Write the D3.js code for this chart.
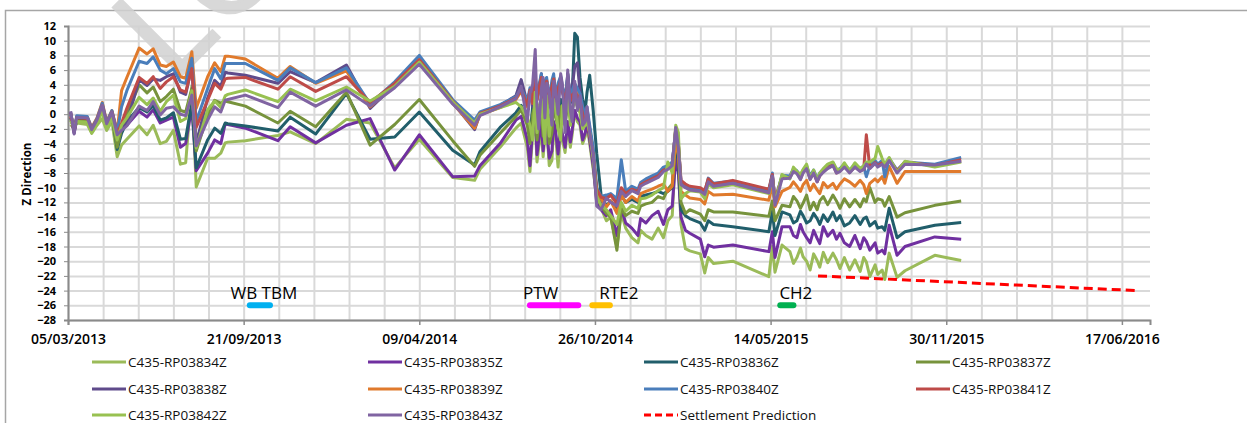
<!DOCTYPE html>
<html>
<head>
<meta charset="utf-8">
<script src="https://cdn.jsdelivr.net/npm/d3@7"></script>
<style>
  body { margin: 0; background: #fff; }
  text { font-family: "Open Sans", "DejaVu Sans", sans-serif; }
</style>
</head>
<body>
<div id="chart"></div>
<script>
// survey dates, shared by all prisms
const dates = [
  "08/03/2013","12/03/2013","15/03/2013","27/03/2013","01/04/2013","07/04/2013","13/04/2013","18/04/2013","24/04/2013","30/04/2013",
  "05/05/2013","11/05/2013","25/05/2013","03/06/2013","10/06/2013","18/06/2013","25/06/2013","03/07/2013","11/07/2013","17/07/2013",
  "24/07/2013","29/07/2013","11/08/2013","19/08/2013","26/08/2013","31/08/2013","03/09/2013","23/09/2013","30/10/2013","13/11/2013",
  "12/12/2013","16/01/2014","12/02/2014","12/03/2014","09/04/2014","17/05/2014","11/06/2014","17/06/2014","10/07/2014","28/07/2014",
  "03/08/2014",
  // PTW works
  "10/08/2014","13/08/2014","16/08/2014","19/08/2014","21/08/2014","23/08/2014","26/08/2014","28/08/2014","30/08/2014","01/09/2014",
  "04/09/2014","07/09/2014","09/09/2014","11/09/2014","14/09/2014","17/09/2014","19/09/2014","22/09/2014","25/09/2014","28/09/2014",
  "30/09/2014","03/10/2014","06/10/2014","09/10/2014","12/10/2014","15/10/2014","17/10/2014","20/10/2014","24/10/2014",
  // after the drop
  "28/10/2014","02/11/2014","08/11/2014","13/11/2014","20/11/2014","25/11/2014","30/11/2014","07/12/2014","14/12/2014","17/12/2014",
  "23/12/2014","30/12/2014","06/01/2015","12/01/2015","17/01/2015","22/01/2015","26/01/2015","29/01/2015","01/02/2015","06/02/2015",
  "11/02/2015","23/02/2015","28/02/2015","04/03/2015","10/03/2015","01/04/2015","12/05/2015","16/05/2015","19/05/2015","27/05/2015",
  // summer 2015
  "05/06/2015","09/06/2015","13/06/2015","17/06/2015","20/06/2015","24/06/2015","28/06/2015","02/07/2015","06/07/2015","09/07/2015",
  "13/07/2015","18/07/2015","24/07/2015","28/07/2015","01/08/2015","06/08/2015","12/08/2015","18/08/2015","24/08/2015","28/08/2015",
  "31/08/2015",
  "04/09/2015","10/09/2015","13/09/2015","18/09/2015","21/09/2015","26/09/2015","05/10/2015","14/10/2015","17/11/2015","17/12/2015"
];

const rp03834 = [
  -1.4, -2.0, -1.2, -1.4, -2.6, -1.5, -0.6, -2.2, -1.0, -5.8,
  -4.2, -3.4, -1.6, -2.8, -1.5, -4.0, -3.7, -2.2, -6.8, -6.6,
  3.8, -9.9, -6.0, -6.0, -5.3, -3.9, -3.8, -3.6, -2.9, -2.4,
  -4.0, -0.7, -1.2, -7.3, -3.4, -8.6, -9.0, -7.5, -4.5, -1.9,
  -1.2,
  -4.5, -7.8, -3.0, -1.0, -6.5, -4.5, -2.0, -5.8, -3.0, -1.8, -7.0, -6.3, -1.5, -2.5, -7.2,
  -2.0, -3.5, -5.2, -1.5, -4.5, -2.8, 0.5, -1.0, -1.5, -4.0, -3.0, -1.5, -4.0, -7.5,
  -11.5, -12.8, -14.5, -14.0, -18.0, -13.5, -15.5, -16.8, -17.5, -15.8,
  -16.5, -17.0, -15.5, -16.8, -14.5, -13.8, -4.5, -7.0, -15.0, -18.3,
  -18.6, -19.0, -21.6, -19.5, -20.3, -20.0, -22.1, -18.0, -21.5, -17.8,
  -18.7, -20.3, -19.5, -18.2, -19.4, -20.0, -21.2, -19.0, -19.9, -20.8,
  -18.8, -20.2, -18.9, -19.8, -21.0, -19.5, -21.2, -19.8, -21.4, -19.5, -20.1,
  -22.1, -20.5, -21.8, -21.2, -22.5, -18.9, -22.2, -21.3, -19.2, -19.9
];
const rp03835 = [
  0.2, -2.5, -0.5, -0.6, -2.1, -0.9, 1.0, -1.4, 0.2, -2.8,
  -2.0, -1.5, 0.4, -0.4, 0.6, -1.2, -0.8, -0.4, -4.5, -4.0,
  1.0, -7.7, -5.3, -3.5, -4.0, -1.3, -1.4, -1.9, -3.6, -1.7,
  -3.9, -1.5, -0.6, -7.6, -2.8, -8.5, -8.4, -7.0, -4.0, -0.8,
  -0.3,
  -3.5, -7.0, -2.0, -0.4, -5.5, -3.5, -1.0, -5.0, -2.5, -2.0, -6.0, -5.0, -1.0, -2.0, -5.4,
  -1.5, -2.7, -4.5, -1.0, -3.8, -2.2, 0.5, -0.5, -1.0, -3.5, -2.5, -1.0, -3.5, -7.0,
  -12.0, -13.0, -13.8, -13.0, -16.5, -12.8, -14.8, -15.5, -16.5, -14.2,
  -14.8, -13.8, -13.2, -15.0, -13.0, -12.5, -6.0, -8.0, -14.0, -15.8,
  -16.2, -17.0, -19.4, -17.8, -18.1, -17.8, -18.7, -16.0, -19.5, -15.3,
  -15.3, -16.5, -16.8, -15.0, -16.0, -16.8, -17.5, -15.8, -16.9, -17.6,
  -15.3, -16.6, -15.8, -17.0, -16.2, -17.5, -18.0, -16.5, -18.3, -16.8, -17.3,
  -18.5, -17.5, -18.9, -18.5, -19.0, -15.1, -19.2, -18.0, -16.7, -17.0
];
const rp03836 = [
  -0.5, -2.2, -0.8, -0.9, -2.2, -1.0, 0.8, -1.5, 0.0, -4.8,
  -2.6, -1.0, 0.9, 0.3, 1.2, -0.8, -0.5, 0.2, -3.4, -3.3,
  1.6, -7.3, -3.5, -1.9, -2.6, -1.2, -1.3, -1.6, -2.3, -0.4,
  -2.7, 2.8, -3.4, -3.1, 0.3, -4.9, -6.9, -5.1, -1.8, 0.2,
  1.2,
  -1.0, -3.0, 1.0, 2.5, -1.0, 0.0, 2.0, -1.0, 1.0, 2.0, -2.0, -1.5, 2.5, 1.0, -0.5,
  2.0, 1.0, -0.5, 5.5, 1.5, 2.5, 11.0, 10.5, 5.0, 2.0, 0.6, 3.0, 5.3, 0.5,
  -5.3, -11.0, -12.5, -11.8, -13.0, -11.0, -12.0, -11.6, -12.0, -11.2,
  -11.0, -10.8, -10.5, -10.8, -10.5, -10.0, -4.0, -6.5, -13.0, -13.8,
  -14.2, -14.8, -15.8, -14.5, -15.0, -15.3, -16.0, -13.2, -16.5, -13.3,
  -13.7, -14.8, -14.5, -13.2, -13.8, -14.8, -14.5, -13.5, -14.2, -15.0,
  -13.7, -14.6, -13.3, -14.5, -13.8, -15.2, -14.8, -13.8, -15.0, -14.2, -14.0,
  -15.2, -14.6, -15.5, -15.3, -15.8, -12.8, -16.8, -16.0, -15.1, -14.75
];
const rp03837 = [
  -0.8, -1.8, -0.9, -1.0, -2.2, -1.2, 0.6, -1.6, -0.2, -4.5,
  -2.0, 0.0, 4.0, 2.9, 3.7, 1.7, 2.4, 3.4, 0.5, 0.3,
  3.5, -5.0, -0.1, 1.9, 1.5, 1.8, 1.7, 1.1, -1.2, 0.4,
  -1.7, 3.0, -4.2, -1.4, 2.0, -3.6, -7.1, -5.6, -2.6, -0.3,
  0.6,
  -1.5, -4.0, 0.0, 1.5, -3.5, -1.5, 0.5, -3.0, -0.5, 1.0, -4.0, -2.5, 1.0, 0.0, -2.0,
  1.0, 0.2, -1.5, 1.5, -0.5, 0.5, 2.0, 1.2, 0.5, -1.5, -1.0, 0.0, -2.0, -5.5,
  -11.0, -12.5, -13.5, -14.0, -18.5, -12.8, -13.8, -13.2, -13.5, -12.5,
  -12.2, -12.0, -11.2, -11.5, -10.2, -9.5, -3.5, -5.0, -12.0, -13.5,
  -13.0, -13.6, -14.5, -13.0, -13.3, -13.3, -13.9, -11.8, -14.5, -12.4,
  -12.6, -11.2, -11.8, -12.8, -12.1, -11.0, -13.0, -12.0, -13.0, -11.8,
  -11.2, -12.3, -11.0, -11.8, -12.8, -11.5, -12.6, -11.6, -12.6, -11.5, -11.9,
  -10.0, -12.0, -11.5, -11.7, -12.5, -11.2, -14.0, -13.4, -12.4, -11.8
];
const rp03838 = [
  0.3, -2.6, -0.3, -0.5, -2.0, -0.7, 1.3, -1.2, 0.4, -2.6,
  -1.8, -1.2, 4.7, 3.9, 4.8, 4.6, 5.1, 5.5, 3.0, 2.7,
  6.5, -4.0, 2.2, 4.6, 3.8, 5.7, 5.6, 5.3, 4.2, 5.8,
  4.3, 6.7, 0.8, 4.0, 7.0, 1.6, -2.1, 0.0, 1.2, 2.5,
  4.7,
  1.5, 3.2, 1.0, 5.0, 2.0, 3.0, 5.5, 2.0, 4.0, 4.5, 1.5, 3.5, 5.0, 1.8, 3.3,
  5.0, 3.0, 1.5, 5.5, 2.0, 3.5, 6.5, 7.0, 3.0, 1.0, -0.5, 0.5, -2.0, -5.0,
  -11.0, -12.0, -11.2, -11.0, -12.0, -10.2, -10.8, -10.0, -10.4, -9.5,
  -9.0, -8.6, -8.2, -7.4, -7.2, -6.8, -2.0, -4.0, -9.4, -9.9,
  -10.2, -10.4, -10.8, -9.0, -9.6, -9.3, -10.6, -8.3, -12.0, -8.5,
  -8.5, -7.6, -7.9, -8.6, -7.8, -7.2, -8.6, -7.8, -9.0, -8.2,
  -7.7, -7.2, -6.8, -7.8, -7.6, -7.0, -7.8, -7.0, -7.6, -7.3, -6.6,
  -7.2, -6.5, -7.0, -6.5, -7.0, -6.2, -7.8, -6.7, -6.9, -6.4
];
const rp03839 = [
  0.1, -2.0, -0.4, -0.4, -1.8, -0.5, 1.6, -1.0, 0.5, -2.4,
  3.2, 5.0, 9.0, 8.2, 8.9, 6.7, 6.5, 7.1, 5.1, 4.9,
  8.5, 0.8, 5.1, 7.0, 5.8, 7.9, 7.9, 7.5, 4.9, 6.5,
  4.2, 5.9, 1.0, 4.0, 7.6, 1.5, -1.9, -0.1, 0.9, 2.0,
  3.1,
  1.0, 3.0, 1.5, 4.6, 2.0, 3.5, 5.0, 2.3, 4.0, 4.7, 1.5, 4.0, 5.0, 2.0, 3.8,
  4.5, 3.3, 1.8, 4.5, 2.0, 2.8, 3.5, 2.8, 2.0, 0.5, -0.8, 0.0, -2.5, -5.5,
  -10.5, -11.5, -12.6, -11.8, -13.5, -11.0, -12.0, -11.2, -11.8, -10.8,
  -10.5, -10.2, -9.8, -9.5, -10.5, -9.8, -3.5, -5.5, -10.5, -11.0,
  -11.4, -11.6, -12.2, -10.5, -11.0, -10.9, -11.7, -9.6, -12.6, -10.5,
  -9.95, -9.2, -9.8, -10.5, -9.6, -9.0, -10.4, -9.5, -10.3, -10.8,
  -9.3, -10.0, -9.4, -10.2, -9.5, -8.8, -9.2, -9.8, -9.0, -9.6, -10.8,
  -9.4, -8.8, -9.2, -8.5, -9.4, -7.1, -9.4, -7.8, -7.8, -7.8
];
const rp03840 = [
  0.0, -2.1, -0.2, -0.3, -1.9, -0.6, 1.5, -1.1, 0.5, -2.5,
  1.0, 3.2, 7.2, 6.9, 7.8, 6.0, 5.5, 6.2, 4.4, 4.2,
  7.6, -1.0, 3.5, 6.2, 4.8, 6.9, 6.9, 6.9, 4.6, 6.3,
  4.3, 6.3, 1.4, 4.4, 8.0, 2.0, -0.8, 0.3, 1.3, 2.4,
  3.5,
  1.8, 3.6, 2.0, 5.2, 2.5, 3.8, 5.5, 2.6, 4.5, 5.0, 2.0, 4.6, 5.5, 2.5, 4.2,
  5.2, 3.8, 2.2, 5.0, 2.5, 3.2, 4.2, 3.5, 2.8, 1.0, 0.0, 1.0, -1.5, -4.5,
  -10.0, -11.2, -11.0, -10.8, -11.5, -6.2, -10.5, -9.8, -10.2, -9.3,
  -8.8, -8.4, -8.0, -7.2, -7.0, -6.5, -2.2, -4.2, -9.2, -9.7,
  -10.0, -10.2, -10.6, -8.7, -9.4, -9.1, -10.4, -8.0, -11.8, -8.3,
  -8.4, -7.4, -7.7, -8.4, -7.6, -7.0, -8.4, -7.6, -8.8, -8.0,
  -7.5, -7.0, -6.6, -7.6, -7.4, -6.8, -7.6, -6.8, -7.4, -7.1, -8.5,
  -7.0, -6.3, -6.8, -6.3, -8.5, -6.0, -7.6, -6.5, -6.8, -5.9
];
const rp03841 = [
  -0.3, -2.3, -0.5, -0.6, -2.0, -0.8, 1.2, -1.3, 0.3, -2.7,
  -1.2, 0.8, 5.0, 4.2, 5.1, 3.5, 4.4, 5.1, 3.3, 3.0,
  6.2, -1.8, 1.9, 4.2, 3.4, 4.8, 4.9, 5.0, 3.4, 5.1,
  3.1, 5.1, 1.6, 4.2, 7.4, 1.8, -1.4, 0.1, 1.1, 2.2,
  3.3,
  1.2, 3.3, 1.5, 4.8, 2.0, 3.4, 5.0, 2.1, 4.0, 4.5, 1.5, 3.8, 4.8, 1.9, 3.5,
  4.5, 3.2, 1.6, 4.2, 1.8, 2.6, 3.0, 2.5, 1.8, 0.0, -1.5, -0.5, -2.8, -5.5,
  -10.2, -11.3, -11.5, -11.0, -12.2, -10.0, -10.8, -10.2, -10.5, -9.6,
  -9.2, -8.8, -8.4, -7.6, -7.4, -6.9, -2.0, -4.0, -9.0, -9.5,
  -9.8, -10.0, -10.4, -8.8, -9.5, -9.0, -10.2, -8.2, -11.6, -8.6,
  -8.6, -7.7, -8.0, -8.8, -7.9, -7.3, -8.8, -8.0, -9.2, -8.4,
  -7.8, -7.3, -6.9, -8.0, -7.7, -7.1, -7.9, -7.2, -7.7, -7.5, -2.8,
  -7.3, -6.6, -7.0, -6.6, -7.0, -6.1, -7.7, -6.5, -7.0, -6.2
];
const rp03842 = [
  -0.9, -1.7, -1.0, -1.1, -2.5, -1.3, 0.4, -1.9, -0.6, -3.5,
  -1.5, -0.5, 2.3, 1.3, 2.2, 0.4, 1.7, 2.6, -1.0, -0.6,
  3.2, -4.6, 0.6, 1.8, 0.9, 2.5, 2.7, 3.3, 1.7, 3.4,
  1.8, 3.7, 1.8, 3.8, 7.1, 1.7, -1.2, 0.0, 0.9, 1.6,
  1.0,
  -0.5, -1.5, -3.5, 3.0, -2.5, 1.0, 2.0, -1.5, -4.0, 2.5, -3.0, 0.5, 2.0, 1.0, -2.0,
  -3.5, 1.2, -0.5, 2.5, -1.5, 0.8, 2.0, 1.0, 0.2, -2.0, -1.5, -1.0, -2.5, -6.0,
  -11.2, -12.4, -13.0, -13.8, -15.0, -12.0, -13.2, -12.4, -12.8, -11.5,
  -11.4, -11.0, -10.4, -10.0, -6.5, -8.0, -1.5, -2.5, -11.5, -10.8,
  -10.4, -10.6, -11.5, -9.5, -10.0, -9.6, -10.8, -8.6, -12.2, -8.2,
  -8.8, -7.2, -7.8, -8.2, -7.5, -6.8, -8.8, -7.6, -9.0, -8.0,
  -7.4, -6.8, -6.5, -7.4, -7.6, -6.6, -7.7, -6.6, -7.4, -7.0, -6.5,
  -6.5, -6.0, -4.4, -6.0, -6.8, -5.9, -7.9, -6.4, -7.2, -6.5
];
const rp03843 = [
  0.4, -2.7, -0.4, -0.5, -2.1, -0.8, 1.2, -1.3, 0.3, -2.8,
  -2.2, -1.6, 1.1, 0.5, 1.7, -0.1, 0.8, 1.0, 0.0, -0.2,
  2.6, -4.3, -0.8, 1.0, 0.3, 1.9, 2.0, 2.6, 0.9, 3.0,
  1.1, 3.3, 1.1, 3.6, 6.8, 1.4, -1.5, -0.2, 1.0, 2.1,
  3.8,
  -1.0, 2.8, 4.0, 8.8, 1.0, -2.0, 3.5, 5.0, -0.5, 4.2, 3.0, -1.5, 4.5, 3.5, 0.0,
  5.5, 4.0, -2.5, 6.0, 0.5, -1.0, 4.5, 0.5, 2.5, -1.5, -1.0, 1.0, -2.5, -5.5,
  -12.5, -13.0, -11.4, -12.0, -12.5, -10.5, -11.2, -10.4, -10.8, -9.8,
  -9.4, -9.0, -8.6, -7.8, -7.5, -7.0, -1.8, -4.5, -9.6, -10.0,
  -10.3, -10.5, -10.9, -9.2, -9.8, -9.4, -10.7, -8.4, -12.4, -8.8,
  -8.7, -7.8, -8.1, -8.9, -8.0, -7.4, -8.9, -8.0, -9.2, -8.4,
  -7.9, -7.4, -7.0, -8.0, -7.8, -7.2, -8.0, -7.2, -7.8, -7.5, -6.8,
  -7.4, -6.7, -7.2, -6.8, -7.2, -6.3, -8.0, -6.8, -6.9, -6.4
];

const series_names = [
  "C435-RP03834Z","C435-RP03835Z","C435-RP03836Z","C435-RP03837Z","C435-RP03838Z",
  "C435-RP03839Z","C435-RP03840Z","C435-RP03841Z","C435-RP03842Z","C435-RP03843Z"
];
const series_values = [rp03834, rp03835, rp03836, rp03837, rp03838, rp03839, rp03840, rp03841, rp03842, rp03843];
const series_colors = ["#9bbb59","#7030a0","#215e6b","#77933c","#5f4b8b","#e07a2c","#4a7ebb","#be4b48","#98c151","#8064a2"];

const prediction_name = "Settlement Prediction";
const prediction_dates = ["07/07/2015", "04/07/2016"];
const prediction_values = [-22, -24];

// construction events marked along the bottom of the chart
const event_labels = ["WB TBM", "PTW", "RTE2", "CH2"];
const event_label_dates = ["06/09/2013", "05/08/2014", "31/10/2014", "24/05/2015"];
const event_start = ["28/09/2013", "13/08/2014", "23/10/2014", "25/05/2015"];
const event_end = ["21/10/2013", "07/10/2014", "12/11/2014", "09/06/2015"];
const event_colors = ["#00b0f0", "#ff00ff", "#ffc000", "#00b050"];
const event_level = -26;

const x_ticks = ["05/03/2013","21/09/2013","09/04/2014","26/10/2014","14/05/2015","30/11/2015","17/06/2016"];
const x_min = "05/03/2013", x_max = "19/07/2016";
const y_ticks = d3.range(-28, 13, 2);

series_values.forEach((v, i) => {
  if (v.length !== dates.length) throw new Error(series_names[i] + " has " + v.length + " values, dates " + dates.length);
});

const parse = d3.utcParse("%d/%m/%Y");
const fmt = d3.utcFormat("%d/%m/%Y");

const W = 1247, H = 423;
const plot = {left: 68, right: 1150, top: 26, bottom: 320};

const svg = d3.select("#chart").append("svg")
  .attr("width", W).attr("height", H);

// chart frame
svg.append("path")
  .attr("d", "M5.5," + H + " V10.5 H" + W)
  .attr("fill", "none").attr("stroke", "#a6a6a6").attr("stroke-width", 1.5);

const x = d3.scaleUtc()
  .domain([parse(x_min), parse(x_max)])
  .range([plot.left, plot.right]);
const y = d3.scaleLinear()
  .domain([-28, 12])
  .range([plot.bottom, plot.top]);

// minor date gridlines every 40 days
const grid_dates = d3.range(0, 1233, 40).map(k => d3.utcDay.offset(parse(x_min), k));
svg.append("g")
  .attr("transform", "translate(0," + plot.bottom + ")")
  .call(d3.axisBottom(x).tickValues(grid_dates).tickSize(-(plot.bottom - plot.top)).tickFormat(""))
  .call(g => g.select(".domain").remove())
  .selectAll("line").attr("stroke", "#d9d9d9").attr("stroke-width", 2);

svg.append("g")
  .attr("transform", "translate(" + plot.left + ",0)")
  .call(d3.axisLeft(y).tickValues(y_ticks).tickSize(-(plot.right - plot.left)).tickFormat(""))
  .call(g => g.select(".domain").remove())
  .selectAll("line").attr("stroke", "#d9d9d9").attr("stroke-width", 2);

// faint watermark lettering (mostly above the page edge)
svg.append("text")
  .attr("transform", "translate(172,85) rotate(-45)")
  .attr("font-size", 135).attr("fill", "#d2d2d2").attr("opacity", 0.85)
  .attr("stroke", "#d2d2d2").attr("stroke-width", 2.5)
  .attr("font-family", "'Liberation Sans', sans-serif")
  .text("LO");

// axes
const yAxis = svg.append("g")
  .attr("transform", "translate(" + plot.left + ",0)")
  .call(d3.axisLeft(y).tickValues(y_ticks).tickSize(4).tickPadding(8));
yAxis.select(".domain").attr("stroke", "#8a8a8a").attr("stroke-width", 2);
yAxis.selectAll("line").attr("stroke", "#8a8a8a");
yAxis.selectAll("text")
  .attr("font-family", "'Open Sans', sans-serif")
  .attr("font-size", 11).attr("font-weight", 700).attr("fill", "#000");

const xAxis = svg.append("g")
  .attr("transform", "translate(0," + plot.bottom + ")")
  .call(d3.axisBottom(x).tickValues(x_ticks.map(parse)).tickFormat(fmt).tickSize(5).tickPadding(9));
xAxis.select(".domain").attr("stroke", "#8a8a8a").attr("stroke-width", 2);
xAxis.selectAll("line").attr("stroke", "#8a8a8a").attr("stroke-width", 1.5);
xAxis.selectAll("text")
  .attr("font-family", "'Open Sans', sans-serif")
  .attr("font-size", 14).attr("font-weight", 600).attr("fill", "#000");

svg.append("text")
  .attr("transform", "translate(31,174) rotate(-90)")
  .attr("text-anchor", "middle")
  .attr("font-size", 11.5).attr("font-weight", 700)
  .text("Z Direction");

// series
const line = d3.line()
  .x(d => x(d.date))
  .y(d => y(d.value));

series_values.forEach((vals, i) => {
  const pts = vals.map((v, k) => ({date: parse(dates[k]), value: v}));
  svg.append("path")
    .datum(pts)
    .attr("fill", "none")
    .attr("stroke", series_colors[i])
    .attr("stroke-width", 3)
    .attr("stroke-linejoin", "round")
    .attr("d", line);
});

svg.append("path")
  .datum(prediction_values.map((v, k) => ({date: parse(prediction_dates[k]), value: v})))
  .attr("fill", "none")
  .attr("stroke", "#ff0000")
  .attr("stroke-width", 3)
  .attr("stroke-dasharray", "9,5")
  .attr("d", line);

// event markers
event_labels.forEach((label, i) => {
  svg.append("line")
    .attr("x1", x(parse(event_start[i]))).attr("x2", x(parse(event_end[i])))
    .attr("y1", y(event_level)).attr("y2", y(event_level))
    .attr("stroke", event_colors[i]).attr("stroke-width", 6)
    .attr("stroke-linecap", "round");
  svg.append("text")
    .attr("x", x(parse(event_label_dates[i])))
    .attr("y", y(event_level) - 6)
    .attr("font-size", 17).attr("fill", "#000")
    .text(label);
});

// legend
const legend_items = series_names.map((n, i) => ({name: n, color: series_colors[i], dash: null}))
  .concat([{name: prediction_name, color: "#ff0000", dash: "7,4"}]);
const col_x = [92, 368, 644, 916], row_y = [362, 389, 415];
legend_items.forEach((item, i) => {
  const cx = col_x[i % 4], cy = row_y[Math.floor(i / 4)];
  svg.append("line")
    .attr("x1", cx).attr("x2", cx + 34).attr("y1", cy).attr("y2", cy)
    .attr("stroke", item.color).attr("stroke-width", 3)
    .attr("stroke-dasharray", item.dash);
  svg.append("text")
    .attr("x", cx + 36).attr("y", cy).attr("dy", "0.35em")
    .attr("font-size", 13.5).attr("fill", "#111")
    .text(item.name);
});
</script>
</body>
</html>
